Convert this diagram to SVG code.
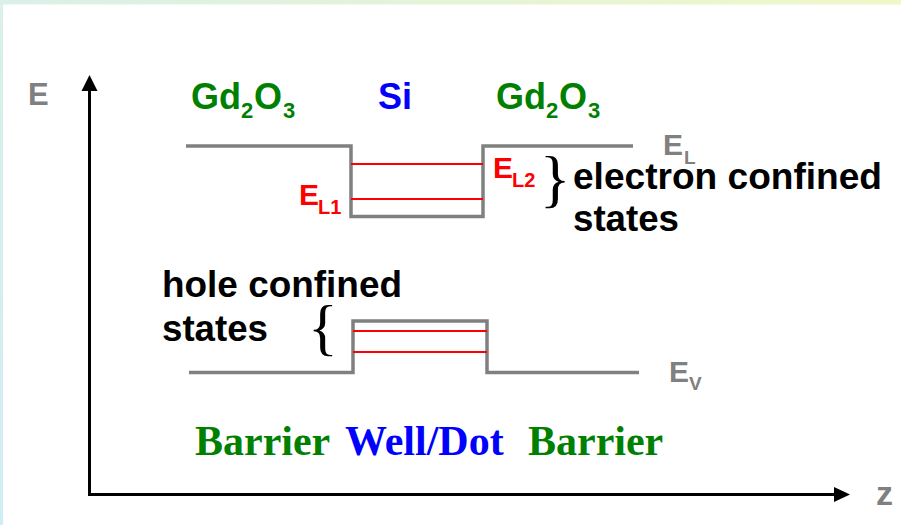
<svg xmlns="http://www.w3.org/2000/svg" width="901" height="525" viewBox="0 0 901 525">
  <defs>
    <linearGradient id="topband" x1="0" y1="0" x2="1" y2="0">
      <stop offset="0" stop-color="#daf0e8"/>
      <stop offset="1" stop-color="#f0f8c8"/>
    </linearGradient>
    <linearGradient id="leftband" x1="0" y1="0" x2="0" y2="1">
      <stop offset="0" stop-color="#daf0e8"/>
      <stop offset="1" stop-color="#d0ecf6"/>
    </linearGradient>
  </defs>
  <style>
    .sans { font-family: "Liberation Sans", Arial, sans-serif; font-weight: bold; }
    .serif { font-family: "Liberation Serif", "Times New Roman", serif; font-weight: bold; }
    .gray { fill: #808080; }
    .green { fill: #008000; }
    .blue { fill: #0000ff; }
    .red { fill: #ff0000; }
    .black { fill: #000000; }
    .band { fill: none; stroke: #808080; stroke-width: 3.5; stroke-linejoin: miter; }
    .level { stroke: #ff0000; stroke-width: 2; }
    .axis { fill: none; stroke: #000000; stroke-width: 3; }
    .brace { font-family: "Liberation Serif", "Times New Roman", serif; font-weight: normal; fill: #000000; }
  </style>

  <rect x="0" y="0" width="901" height="525" fill="#ffffff"/>
  <rect x="0" y="0" width="901" height="4.5" fill="url(#topband)"/>
  <rect x="0" y="0" width="3" height="525" fill="url(#leftband)"/>

  <g id="connectors">
    <polyline class="axis" points="89.5,88 89.5,494.5 836,494.5"/>
    <polygon points="89.5,75 81.5,91 97.5,91" fill="#000000"/>
    <polygon points="850,494.5 834,487 834,502" fill="#000000"/>
  </g>

  <g id="axis-labels">
    <text class="sans gray" x="28" y="105" font-size="31">E</text>
    <text class="sans gray" x="876" y="505" font-size="34">z</text>
  </g>

  <g id="materials">
    <text class="sans green" font-size="36"><tspan x="191" y="109">Gd</tspan><tspan x="241" y="118" font-size="22">2</tspan><tspan x="254" y="109">O</tspan><tspan x="283" y="118" font-size="22">3</tspan></text>
    <text class="sans blue" x="378" y="109" font-size="36">Si</text>
    <text class="sans green" font-size="36"><tspan x="496" y="109">Gd</tspan><tspan x="546" y="118" font-size="22">2</tspan><tspan x="559" y="109">O</tspan><tspan x="588" y="118" font-size="22">3</tspan></text>
  </g>

  <g id="conduction-band">
    <polyline class="band" points="186,146 351,146 351,216.5 483,216.5 483,146 633,146"/>
    <line class="level" x1="351" y1="164" x2="483" y2="164"/>
    <line class="level" x1="351" y1="199" x2="483" y2="199"/>
    <text class="sans gray" font-size="30"><tspan x="663" y="155">E</tspan><tspan x="684" y="164" font-size="19">L</tspan></text>
    <text class="sans red" font-size="30"><tspan x="299" y="205">E</tspan><tspan x="318" y="214" font-size="20">L1</tspan></text>
    <text class="sans red" font-size="30"><tspan x="493" y="178">E</tspan><tspan x="512" y="187" font-size="20">L2</tspan></text>
  </g>

  <g id="electron-states">
    <text class="brace" x="555" y="200" font-size="64" text-anchor="middle">}</text>
    <text class="sans black" x="573" y="189" font-size="36" textLength="309" lengthAdjust="spacingAndGlyphs">electron confined</text>
    <text class="sans black" x="573" y="231" font-size="36" textLength="106" lengthAdjust="spacingAndGlyphs">states</text>
  </g>

  <g id="valence-band">
    <polyline class="band" points="189,372.5 353,372.5 353,321 487,321 487,372.5 639,372.5"/>
    <line class="level" x1="353" y1="331" x2="487" y2="331"/>
    <line class="level" x1="353" y1="352" x2="487" y2="352"/>
    <text class="sans gray" font-size="30"><tspan x="669" y="382">E</tspan><tspan x="689" y="390" font-size="19">V</tspan></text>
  </g>

  <g id="hole-states">
    <text class="sans black" x="162" y="297" font-size="36" textLength="240" lengthAdjust="spacingAndGlyphs">hole confined</text>
    <text class="sans black" x="162" y="341" font-size="36" textLength="106" lengthAdjust="spacingAndGlyphs">states</text>
    <text class="brace" x="323" y="348" font-size="62" text-anchor="middle">{</text>
  </g>

  <g id="regions">
    <text class="serif green" x="195" y="455" font-size="42">Barrier</text>
    <text class="serif blue" x="345" y="455" font-size="42">Well/Dot</text>
    <text class="serif green" x="528" y="455" font-size="42">Barrier</text>
  </g>
</svg>
